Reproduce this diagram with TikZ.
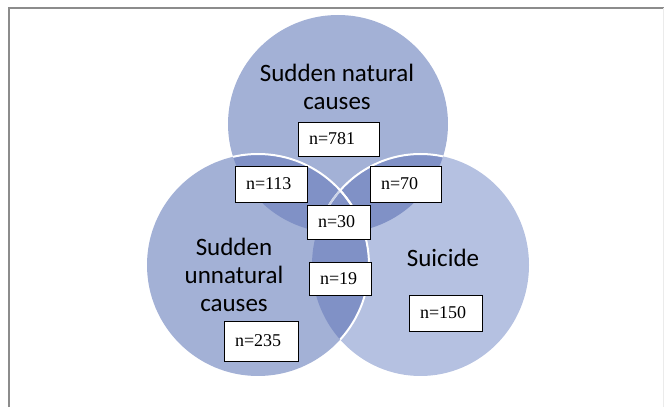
\documentclass[tikz,border=0pt]{standalone}
\usepackage{fontspec}
\setmainfont{Liberation Serif}
\newfontfamily\labelfont{Carlito}

\definecolor{setblue}{RGB}{163,177,214}
\definecolor{setlight}{RGB}{181,193,225}
\definecolor{setdark}{RGB}{128,145,198}
\definecolor{framegray}{RGB}{140,140,140}

% The three sets
\def\natset{(338,283) ellipse [x radius=110, y radius=109]}
\def\unnatset{(258,142) ellipse [x radius=111, y radius=111]}
\def\suiset{(420.5,142) ellipse [x radius=108.5, y radius=111]}

\begin{document}
\begin{tikzpicture}[
    x=1pt, y=1pt,
    count/.style={rectangle, draw=black, line width=0.9pt, fill=white, inner xsep=11pt, inner ysep=0pt, align=left, font=\fontsize{18}{20}\selectfont},
    setlabel/.style={align=center, font=\labelfont\fontsize{25}{28}\selectfont},
    outline/.style={draw=white, line width=2pt}
]
\useasboundingbox (0,0) rectangle (664,407);

% Frame
\draw[framegray, line width=2pt] (9,0) -- (9,399) -- (664,399);
\draw[black!8, line width=1pt] (663,399) -- (663,0);

% Sets
\fill[setblue] \natset;
\fill[setlight] \suiset;
\fill[setblue] \unnatset;

% Overlaps
\begin{scope}
  \clip \natset;
  \fill[setdark] \unnatset;
  \fill[setdark] \suiset;
\end{scope}
\begin{scope}
  \clip \unnatset;
  \fill[setdark] \suiset;
\end{scope}

% White borders
\begin{scope}
  \clip \natset;
  \draw[outline] \suiset;
  \clip \unnatset;
  \draw[outline, draw=setblue!55!white] \suiset;
\end{scope}
\begin{scope}
  \clip \natset;
  \draw[outline] \unnatset;
\end{scope}
\begin{scope}
  \clip \suiset;
  \draw[outline] \unnatset;
\end{scope}

% Set names
\node[setlabel] (natlabel) at (337,320) {Sudden natural\\causes};
\node[setlabel] (unnatlabel) at (234,132) {Sudden\\unnatural\\causes};
\node[setlabel] (suilabel) at (443,149) {Suicide};

% Counts
\node[count, text width=59pt, minimum height=34pt] (nat) at (338.5,268) {n=781};
\node[count, text width=50pt, minimum height=36pt] (natunnat) at (271,223) {n=113};
\node[count, text width=49pt, minimum height=36pt] (natsui) at (405.5,223) {n=70};
\node[count, text width=41pt, minimum height=34pt] (all) at (338.5,185) {n=30};
\node[count, text width=40pt, minimum height=33pt] (unnatsui) at (340,128.5) {n=19};
\node[count, text width=52pt, minimum height=40pt] (unnat) at (261,66) {n=235};
\node[count, text width=51pt, minimum height=36pt] (sui) at (445.5,94) {n=150};

\end{tikzpicture}
\end{document}
